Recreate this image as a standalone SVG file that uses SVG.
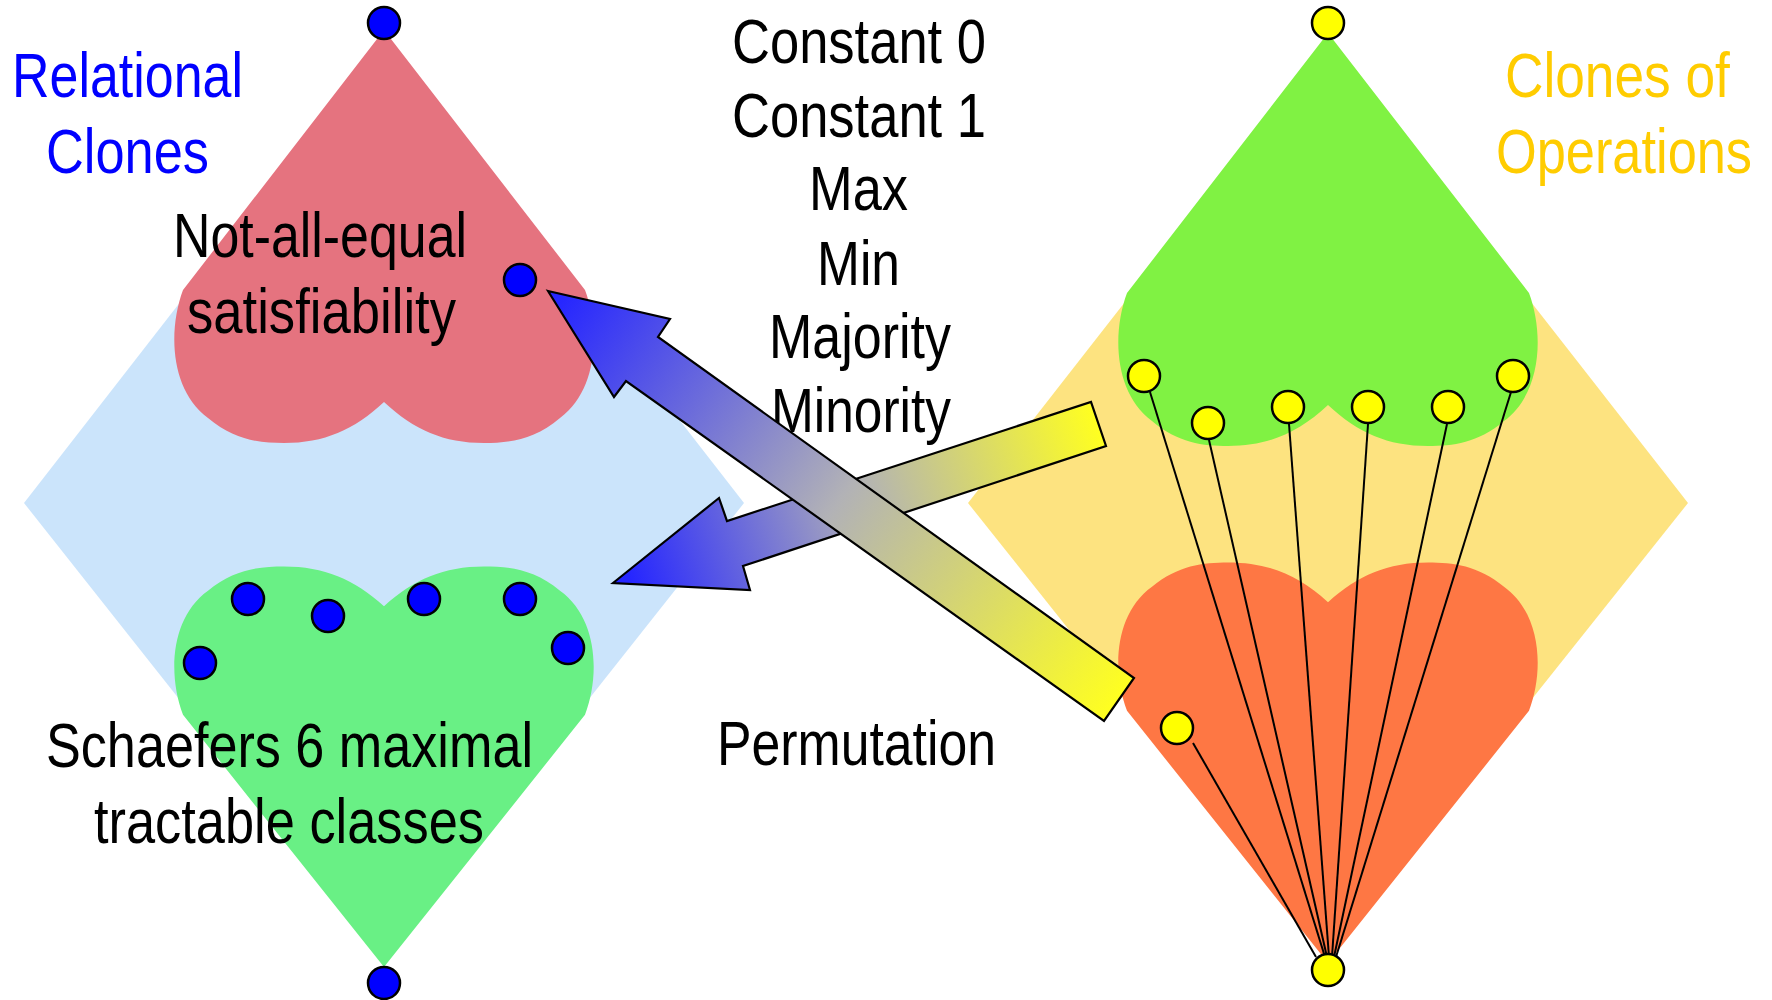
<svg xmlns="http://www.w3.org/2000/svg" width="1772" height="1000" viewBox="0 0 1772 1000">
  <defs>
    <style>
      .lbl { font-family: "Liberation Sans", Arial, sans-serif; font-size: 63px; fill: #000; }
      .blue-title { fill: #0000ff; }
      .gold-title { fill: #ffcc00; }
      .rdot { fill: #0000ff; stroke: #000; stroke-width: 2.5; }
      .ydot { fill: #ffff00; stroke: #000; stroke-width: 2.5; }
      .spoke { stroke: #000; stroke-width: 2; fill: none; }
      .arrow { stroke: #000; stroke-width: 2.2; stroke-linejoin: miter; }
    </style>
    <!-- heart outline, apex at origin, lobes below -->
    <path id="heart" d="M 0 0 L -201 260 C -216 300 -214 360 -176 388 C -150 410 -125 413 -100 413 C -60 413 -30 400 0 372 C 30 400 60 413 100 413 C 125 413 150 410 176 388 C 214 360 216 300 201 260 Z"/>
    <linearGradient id="gradUp" gradientUnits="userSpaceOnUse" x1="560" y1="300" x2="1119" y2="700">
      <stop offset="0" stop-color="#2626ff"/>
      <stop offset="0.5" stop-color="#b2b2b6"/>
      <stop offset="1" stop-color="#ffff20"/>
    </linearGradient>
    <linearGradient id="gradDown" gradientUnits="userSpaceOnUse" x1="630" y1="578" x2="1099" y2="424">
      <stop offset="0" stop-color="#2626ff"/>
      <stop offset="0.5" stop-color="#b2b2b6"/>
      <stop offset="1" stop-color="#ffff20"/>
    </linearGradient>
  </defs>

  <rect x="0" y="0" width="1772" height="1000" fill="#ffffff"/>

  <!-- relational side -->
  <g id="relational-lattice">
    <polygon points="384,40 744,503 384,958 24,503" fill="#cbe4fb"/>
  </g>
  <g id="nae-heart">
    <use href="#heart" transform="translate(384,30)" fill="#e5737f"/>
  </g>
  <g id="schaefer-heart">
    <use href="#heart" transform="translate(384,967) scale(1,-0.97)" fill="#69f085"/>
  </g>

  <!-- operation side -->
  <g id="operation-lattice">
    <polygon points="1328,42 1688,503 1328,955 968,503" fill="#fde380"/>
  </g>
  <g id="upper-op-heart">
    <use href="#heart" transform="translate(1328,33)" fill="#80f243"/>
  </g>
  <g id="lower-op-heart">
    <use href="#heart" transform="translate(1328,963) scale(1,-0.97)" fill="#fe7744"/>
  </g>

  <!-- titles -->
  <g id="title-relational">
    <text class="lbl blue-title" x="12" y="97" textLength="231" lengthAdjust="spacingAndGlyphs">Relational</text>
    <text class="lbl blue-title" x="46" y="173" textLength="163" lengthAdjust="spacingAndGlyphs">Clones</text>
  </g>
  <g id="title-operations">
    <text class="lbl gold-title" transform="translate(1505,97) scale(0.845,1)">Clones of</text>
    <text class="lbl gold-title" transform="translate(1496,173) scale(0.831,1)">Operations</text>
  </g>

  <g id="label-nae">
    <text class="lbl" x="173" y="257" textLength="294" lengthAdjust="spacingAndGlyphs">Not-all-equal</text>
    <text class="lbl" x="187" y="333" textLength="269" lengthAdjust="spacingAndGlyphs">satisfiability</text>
  </g>
  <g id="label-schaefer">
    <text class="lbl" x="46" y="767" textLength="487" lengthAdjust="spacingAndGlyphs">Schaefers 6 maximal</text>
    <text class="lbl" x="94" y="843" textLength="390" lengthAdjust="spacingAndGlyphs">tractable classes</text>
  </g>

  <g id="label-operations">
    <text class="lbl" x="732" y="63" textLength="254" lengthAdjust="spacingAndGlyphs">Constant 0</text>
    <text class="lbl" x="732" y="137" textLength="254" lengthAdjust="spacingAndGlyphs">Constant 1</text>
    <text class="lbl" x="809" y="210" textLength="99" lengthAdjust="spacingAndGlyphs">Max</text>
    <text class="lbl" x="817" y="285" textLength="83" lengthAdjust="spacingAndGlyphs">Min</text>
    <text class="lbl" x="769" y="358" textLength="182" lengthAdjust="spacingAndGlyphs">Majority</text>
    <text class="lbl" x="771" y="432" textLength="180" lengthAdjust="spacingAndGlyphs">Minority</text>
  </g>
  <g id="label-permutation">
    <text class="lbl" x="717" y="765" textLength="279" lengthAdjust="spacingAndGlyphs">Permutation</text>
  </g>

  <!-- connectors: spokes to the bottom clone and the two Galois arrows -->
  <g id="connectors">
    <line class="spoke" x1="1150" y1="392" x2="1325" y2="957"/>
    <line class="spoke" x1="1209" y1="440" x2="1327" y2="957"/>
    <line class="spoke" x1="1289" y1="424" x2="1329" y2="957"/>
    <line class="spoke" x1="1368" y1="424" x2="1332" y2="957"/>
    <line class="spoke" x1="1447" y1="424" x2="1334" y2="957"/>
    <line class="spoke" x1="1511" y1="392" x2="1336" y2="957"/>
    <line class="spoke" x1="1193" y1="743" x2="1316" y2="957"/>

    <polygon class="arrow" fill="url(#gradDown)" points="613,583 719,498 727,521 1091,402 1106,446 743,566 750,590"/>
    <polygon class="arrow" fill="url(#gradUp)" points="548,291 670,319 658,337 1134,678 1104,721 626,381 614,397"/>
  </g>

  <!-- relation clones -->
  <g id="rel-top"><circle class="rdot" cx="384" cy="23" r="16"/></g>
  <g id="rel-nae"><circle class="rdot" cx="520" cy="280" r="16"/></g>
  <g id="rel-schaefer">
    <circle class="rdot" cx="248" cy="599" r="16"/>
    <circle class="rdot" cx="328" cy="616" r="16"/>
    <circle class="rdot" cx="424" cy="599" r="16"/>
    <circle class="rdot" cx="520" cy="599" r="16"/>
    <circle class="rdot" cx="568" cy="648" r="16"/>
    <circle class="rdot" cx="200" cy="663" r="16"/>
  </g>
  <g id="rel-bottom"><circle class="rdot" cx="384" cy="983" r="16"/></g>

  <!-- operation clones -->
  <g id="op-top"><circle class="ydot" cx="1328" cy="23" r="16"/></g>
  <g id="op-maximal">
    <circle class="ydot" cx="1144" cy="376" r="16"/>
    <circle class="ydot" cx="1208" cy="423" r="16"/>
    <circle class="ydot" cx="1288" cy="407" r="16"/>
    <circle class="ydot" cx="1368" cy="407" r="16"/>
    <circle class="ydot" cx="1448" cy="407" r="16"/>
    <circle class="ydot" cx="1513" cy="376" r="16"/>
  </g>
  <g id="op-permutation"><circle class="ydot" cx="1177" cy="728" r="16"/></g>
  <g id="op-bottom"><circle class="ydot" cx="1328" cy="970" r="16"/></g>
</svg>
